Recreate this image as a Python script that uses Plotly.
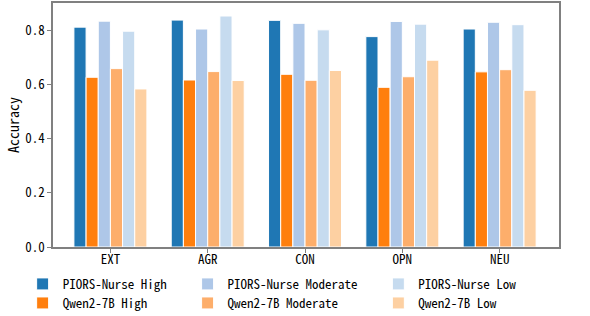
import plotly.graph_objects as go

categories = ["EXT", "AGR", "CON", "OPN", "NEU"]
piors_high = [0.811, 0.837, 0.836, 0.776, 0.804]
qwen_high = [0.626, 0.616, 0.637, 0.589, 0.646]
piors_mod = [0.833, 0.804, 0.825, 0.832, 0.829]
qwen_mod = [0.658, 0.647, 0.615, 0.628, 0.654]
piors_low = [0.796, 0.852, 0.801, 0.822, 0.820]
qwen_low = [0.583, 0.614, 0.651, 0.689, 0.578]
y_ticks = [0.0, 0.2, 0.4, 0.6, 0.8]

FONT = "Noto Sans Mono CJK SC, Liberation Mono, monospace"

series = [
    ("PIORS-Nurse High", piors_high, "#1f77b4", "legend", -0.06, 1.0),
    ("Qwen2-7B High", qwen_high, "#ff7f0e", "legend2", -0.06, 0.0),
    ("PIORS-Nurse Moderate", piors_mod, "#aec7e8", "legend3", 0.266, 1.0),
    ("Qwen2-7B Moderate", qwen_mod, "#fdae6b", "legend4", 0.266, 0.0),
    ("PIORS-Nurse Low", piors_low, "#c6dbef", "legend5", 0.643, 1.0),
    ("Qwen2-7B Low", qwen_low, "#fdd0a2", "legend6", 0.643, 0.0),
]

fig = go.Figure()
layout_legends = {}
for name, vals, color, lg, lx, row in series:
    fig.add_trace(go.Bar(
        x=categories, y=vals, name=name, legend=lg,
        marker=dict(color=color, line=dict(color="white", width=1)),
    ))
    layout_legends[lg] = dict(
        x=lx, y=-0.09 - (1 - row) * 0.078, xref="paper", yref="paper",
        xanchor="left", yanchor="top", orientation="h",
        font=dict(family=FONT, size=13, color="black"),
        bgcolor="rgba(0,0,0,0)", itemwidth=30,
    )

fig.update_layout(
    width=590, height=316,
    margin=dict(l=53, r=31, t=3, b=69, autoexpand=False),
    paper_bgcolor="white", plot_bgcolor="white",
    barmode="group", bargap=0.25, bargroupgap=0,
    showlegend=True,
    font=dict(family=FONT, size=13, color="black"),
    xaxis=dict(
        range=[-0.59, 4.61], showline=True, linecolor="#808080", linewidth=1.5,
        mirror=True, ticks="outside", ticklen=4, tickcolor="#808080",
        showgrid=False, tickfont=dict(family=FONT, size=13), automargin=False,
        ticklabelstandoff=-4,
    ),
    yaxis=dict(
        range=[0, 0.9], tickvals=y_ticks, ticktext=[f"{v:.1f}" for v in y_ticks],
        showline=True, linecolor="#808080", linewidth=1.5, mirror=True,
        ticks="outside", ticklen=4, tickcolor="#808080", showgrid=False,
        title=dict(text="Accuracy", font=dict(family=FONT, size=14), standoff=2),
        tickfont=dict(family=FONT, size=13), automargin=False,
    ),
    **layout_legends,
)

fig.write_html("out.html", config={"displayModeBar": False},
               post_script="document.body.style.margin='0';document.body.style.overflow='hidden';")
